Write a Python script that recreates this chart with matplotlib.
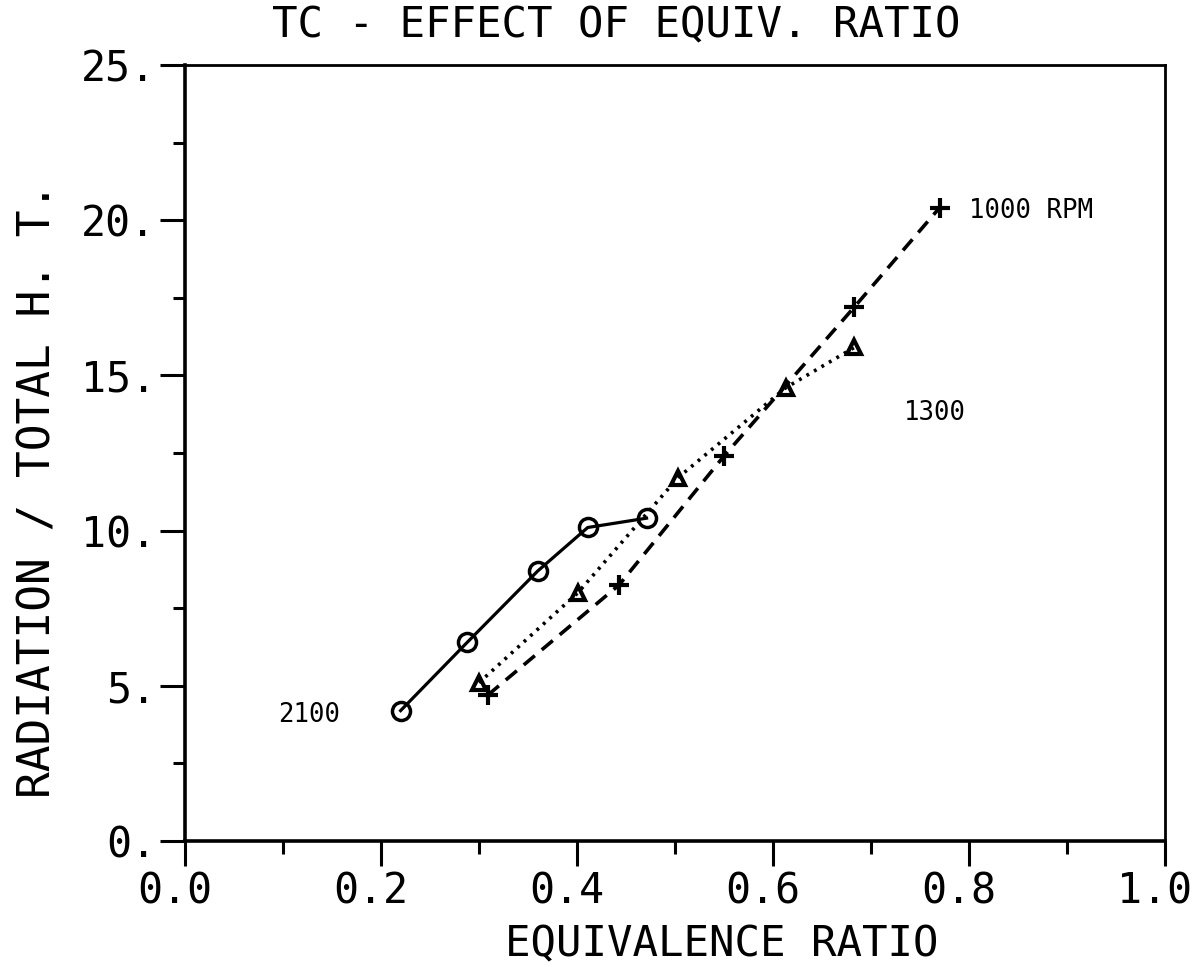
import numpy as np
import matplotlib.pyplot as plt
import matplotlib.transforms as mtransforms
from matplotlib.ticker import MultipleLocator, FixedLocator

# Radiation as a share of total heat transfer vs. equivalence ratio, three engine speeds
phi_2100 = [0.220, 0.288, 0.360, 0.411, 0.471]
rad_2100 = [4.2, 6.4, 8.7, 10.1, 10.4]

phi_1300 = [0.300, 0.401, 0.503, 0.613, 0.683]
rad_1300 = [5.1, 8.0, 11.7, 14.6, 15.9]

phi_1000 = [0.309, 0.443, 0.550, 0.683, 0.770]
rad_1000 = [4.7, 8.25, 12.4, 17.2, 20.4]

x_ticks = [0.0, 0.2, 0.4, 0.6, 0.8, 1.0]
x_tick_labels = ['0.0', '0.2', '0.4', '0.6', '0.8', '1.0']
y_ticks = [0, 5, 10, 15, 20, 25]
y_tick_labels = ['0.', '5.', '10.', '15.', '20.', '25.']

speed_labels = ['1000 RPM', '1300', '2100']
speed_label_pos = [(0.800, 20.3), (0.734, 13.8), (0.095, 4.06)]

mono = 'DejaVu Sans Mono'
plt.rcParams['font.family'] = mono

fig = plt.figure(figsize=(11.96, 9.67), dpi=100)
ax = fig.add_axes([0.1547, 0.1303, 0.8193, 0.8025])

ax.plot(phi_2100, rad_2100, color='black', lw=2.3, ls='-',
        marker='o', ms=13, mfc='none', mec='black', mew=2.5)
ax.plot(phi_1300, rad_1300, color='black', lw=2.6, ls=(0, (0.8, 1.6)),
        marker='^', ms=10, mfc='none', mec='black', mew=3)
ax.plot(phi_1000, rad_1000, color='black', lw=2.6, ls=(0, (4, 2.5)),
        marker='+', ms=15, mec='black', mew=3)

for txt, (x, y) in zip(speed_labels, speed_label_pos):
    ax.text(x, y, txt, fontsize=18.5, family=mono, va='center', ha='left')

ax.set_xlim(0, 1.0)
ax.set_ylim(0, 25)
ax.xaxis.set_major_locator(FixedLocator(x_ticks))
ax.set_xticklabels(x_tick_labels)
ax.xaxis.set_minor_locator(MultipleLocator(0.1))
ax.yaxis.set_major_locator(FixedLocator(y_ticks))
ax.set_yticklabels(y_tick_labels)
ax.yaxis.set_minor_locator(MultipleLocator(2.5))

ax.tick_params(which='major', direction='out', length=18, width=2.2,
               labelsize=30, pad=3)
ax.tick_params(which='minor', direction='out', length=9, width=2.2)
ax.tick_params(top=False, right=False, which='both')

# plotter-style labels sit a little left of their ticks
shift = mtransforms.ScaledTranslation(-10 / 100, 0, fig.dpi_scale_trans)
for lbl in ax.get_xticklabels():
    lbl.set_transform(lbl.get_transform() + shift)

for side in ['left', 'bottom']:
    ax.spines[side].set_linewidth(2.6)
for side in ['top', 'right']:
    ax.spines[side].set_linewidth(2.0)

ax.set_title('TC - EFFECT OF EQUIV. RATIO', fontsize=30.5, x=0.44, pad=20)
ax.set_xlabel('EQUIVALENCE RATIO', fontsize=30.5)
ax.xaxis.set_label_coords(0.548, -0.106)
ax.set_ylabel('RADIATION / TOTAL H. T.', fontsize=32)
ax.yaxis.set_label_coords(-0.128, 0.452)

fig.savefig('out.png', dpi=100)
